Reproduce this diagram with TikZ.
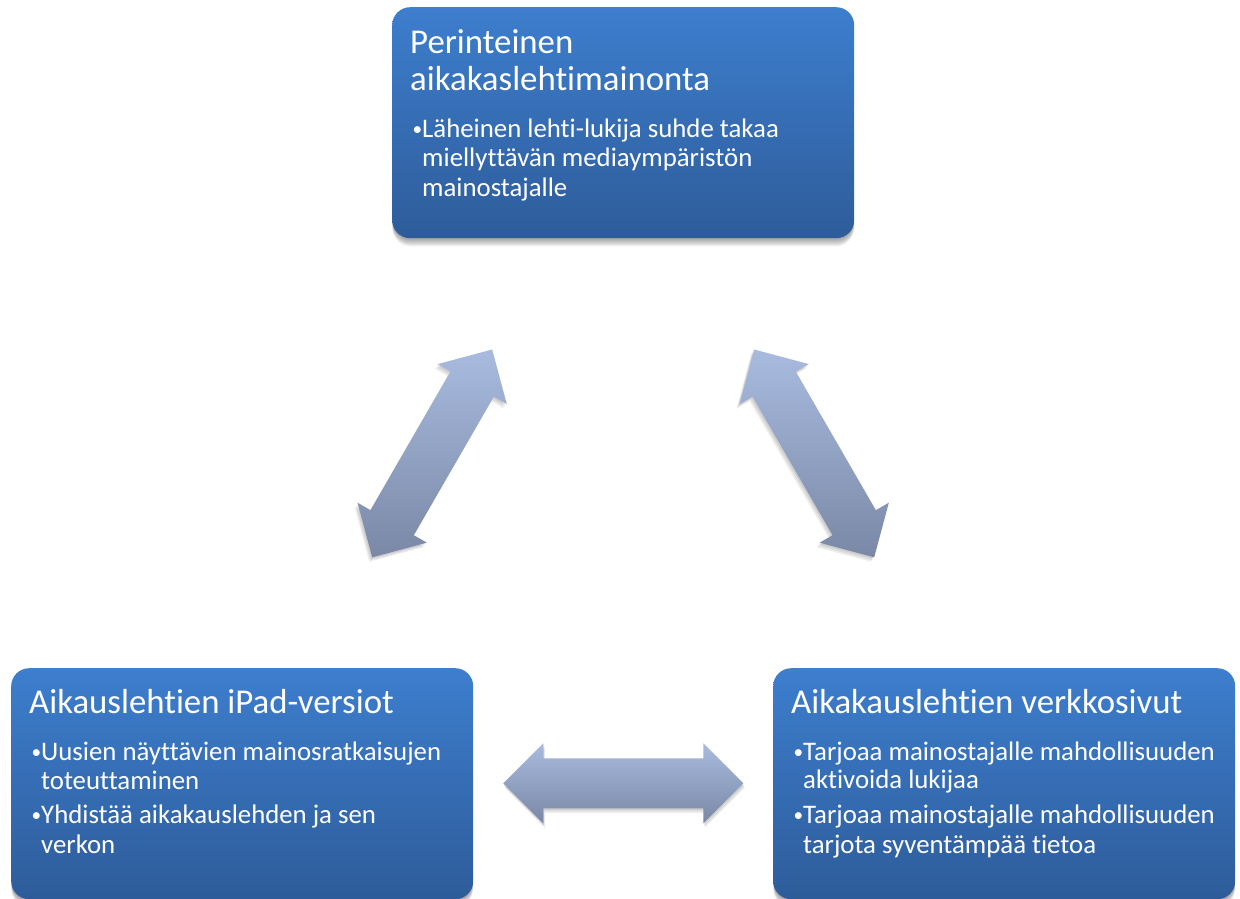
\documentclass[tikz,border=0pt]{standalone}
\usepackage{fontspec}
\setmainfont[Ligatures={NoCommon,NoRequired,NoContextual}]{Carlito}
\usetikzlibrary{calc,backgrounds}
\definecolor{boxtop}{RGB}{61,126,206}
\definecolor{boxbot}{RGB}{46,92,154}
\definecolor{arrtop}{RGB}{168,187,223}
\definecolor{arrbot}{RGB}{122,136,166}
\newcommand\bul{\makebox[12pt][l]{\hspace{2.5pt}\raisebox{2pt}{\scalebox{0.72}{•}}}}
\tikzset{
  card/.style={rounded corners=18pt, top color=boxtop, bottom color=boxbot, draw=none,
    minimum width=462pt, minimum height=231pt, anchor=north west, inner sep=0pt},
  ttl/.style={anchor=base west, inner sep=0pt, text=white, font=\fontsize{34.8}{37}\selectfont},
  body/.style={anchor=base west, inner sep=0pt, text=white, font=\fontsize{26.8}{29}\selectfont},
  blockarrow/.style={top color=arrtop, bottom color=arrbot, draw=none},
  arrowshadow/.style={fill=black, opacity=0.07, draw=none},
}
\newcommand\arrowpath[1]{%
  \path[#1] (-120,0) -- (-80,40) -- (-80,25) -- (80,25) -- (80,40) -- (120,0)
    -- (80,-40) -- (80,-25) -- (-80,-25) -- (-80,-40) -- cycle;}
\begin{document}
\begin{tikzpicture}[x=1pt,y=-1pt]
\useasboundingbox (0,0) rectangle (1240,899);

% boxes
\node[card] (top) at (392,7) {};
\node[card] (left) at (11,668) {};
\node[card] (right) at (773,668) {};

\begin{pgfonlayer}{background}
  \foreach \b in {top,left,right}{
    \foreach \k in {1,...,8}{
      \fill[black, opacity=0.05, rounded corners=18pt]
        ($(\b.north west)+(0.5,\k)$) rectangle ($(\b.south east)+(-0.5,\k)$);
    }
  }
\end{pgfonlayer}

% block arrows
\begin{scope}[shift={(432.2,453.4)}, x={(0.5pt,0.866pt)}, y={(0.866pt,-0.5pt)}]
  \foreach \k in {1,2,3}{\begin{scope}[xshift=-\k pt, yshift=-1.5*\k pt]\arrowpath{arrowshadow}\end{scope}}
  \arrowpath{blockarrow}
\end{scope}
\begin{scope}[shift={(814.2,453.4)}, x={(-0.5pt,0.866pt)}, y={(0.866pt,0.5pt)}]
  \foreach \k in {1,2,3}{\begin{scope}[xshift=-\k pt, yshift=-1.5*\k pt]\arrowpath{arrowshadow}\end{scope}}
  \arrowpath{blockarrow}
\end{scope}
\begin{scope}[shift={(623.3,783.3)}, x={(1pt,0pt)}, y={(0pt,1pt)}]
  \foreach \k in {1,2,3}{\begin{scope}[xshift=0.5*\k pt, yshift=-1.5*\k pt]\arrowpath{arrowshadow}\end{scope}}
  \arrowpath{blockarrow}
\end{scope}

% top box text
\node[ttl] (t1) at (410,54) {Perinteinen};
\node[ttl] (t2) at (410,91) {aikakaslehtimainonta};
\node[body] (t3) at (410,137.5) {\bul Läheinen lehti-lukija suhde takaa};
\node[body] (t4) at (422,166.5) {miellyttävän mediaympäristön};
\node[body] (t5) at (422,196) {mainostajalle};

% left box text
\node[ttl] (l1) at (29,713) {Aikauslehtien iPad-versiot};
\node[body] (l2) at (29,760) {\bul Uusien näyttävien mainosratkaisujen};
\node[body] (l3) at (41,789) {toteuttaminen};
\node[body] (l4) at (29,823) {\bul Yhdistää aikakauslehden ja sen};
\node[body] (l5) at (41,853) {verkon};

% right box text
\node[ttl] (r1) at (791,713) {Aikakauslehtien verkkosivut};
\node[body] (r2) at (791,760) {\bul Tarjoaa mainostajalle mahdollisuuden};
\node[body] (r3) at (803,788) {aktivoida lukijaa};
\node[body] (r4) at (791,823) {\bul Tarjoaa mainostajalle mahdollisuuden};
\node[body] (r5) at (803,853) {tarjota syventämpää tietoa};
\end{tikzpicture}
\end{document}
